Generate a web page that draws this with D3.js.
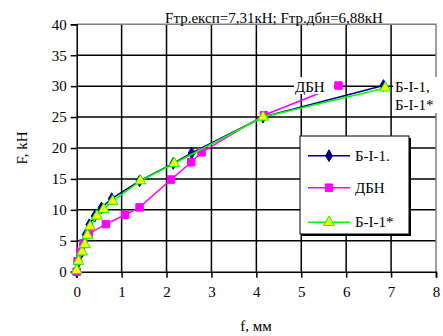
<!DOCTYPE html>
<html>
<head>
<meta charset="utf-8">
<script src="https://cdn.jsdelivr.net/npm/d3@7"></script>
<style>
  body { margin: 0; background: #fff; }
</style>
</head>
<body>
<svg id="chart" width="443" height="336"></svg>
<script>
// series: [f, mm ; F, kH]
var seriesB1 = [[0,0],[0.03,1.5],[0.1,3],[0.15,4.5],[0.2,6],[0.28,7.6],[0.4,9],[0.55,10.3],[0.78,11.8],[1.4,14.7],[2.15,17.5],[2.56,19.2],[4.15,25],[6.83,30.1]];
var seriesDBN = [[0,0],[0.02,1.7],[0.08,3.2],[0.15,4.6],[0.27,6.1],[0.65,7.7],[1.08,9.2],[1.4,10.4],[2.1,14.9],[2.55,17.7],[2.78,19.3],[4.17,25.3],[5.83,30.1]];
var seriesB1s = [[0,0.2],[0.04,1.7],[0.12,3.2],[0.18,4.4],[0.24,5.9],[0.3,7.3],[0.45,9],[0.6,10.1],[0.8,11.4],[1.42,14.7],[2.17,17.5],[4.15,25],[6.87,29.7]];
var xTicks = [0,1,2,3,4,5,6,7,8];
var yTicks = [0,5,10,15,20,25,30,35,40];
var legendNames = ["Б-І-1.", "ДБН", "Б-І-1*"];

var svg = d3.select("#chart");
var x = d3.scaleLinear().domain([0, 8]).range([76.7, 436]);
var y = d3.scaleLinear().domain([0, 40]).range([271.7, 24.3]);

// serif text helper
function serif(sel) {
  return sel.style("font-family", "Tinos").style("font-size", "15px").attr("fill", "#000");
}

// grid
var g = svg.append("g");
g.selectAll("line.vx").data(xTicks.slice(1, -1)).enter().append("line")
  .attr("x1", d => x(d)).attr("x2", d => x(d))
  .attr("y1", y(40)).attr("y2", y(0))
  .attr("stroke", "#000").attr("stroke-width", 1.5);
g.selectAll("line.hy").data(yTicks.slice(1, -1)).enter().append("line")
  .attr("x1", x(0)).attr("x2", x(8))
  .attr("y1", d => y(d)).attr("y2", d => y(d))
  .attr("stroke", "#000").attr("stroke-width", 1.5);
// top and right border gray
g.append("path")
  .attr("d", "M" + x(0) + "," + y(40) + "H" + x(8) + "V" + y(0))
  .attr("fill", "none").attr("stroke", "#808080").attr("stroke-width", 1.5);

// axes
var xAxis = svg.append("g").attr("transform", "translate(0," + y(0) + ")")
  .call(d3.axisBottom(x).tickValues(xTicks).tickSize(6).tickPadding(9).tickFormat(d3.format("d")));
var yAxis = svg.append("g").attr("transform", "translate(" + x(0) + ",0)")
  .call(d3.axisLeft(y).tickValues(yTicks).tickSize(6).tickPadding(4).tickFormat(d3.format("d")));
[xAxis, yAxis].forEach(function(a) {
  a.attr("font-family", "Tinos").attr("font-size", 15);
  a.select(".domain").attr("stroke", "#000").attr("stroke-width", 1.5);
  a.selectAll(".tick line").attr("stroke", "#000").attr("stroke-width", 1.5);
  serif(a.selectAll("text"));
});

// titles
serif(svg.append("text").attr("x", 274).attr("y", 23).attr("text-anchor", "middle"))
  .text("Fтр.експ=7,31кН; Fтр.дбн=6,88кН");
serif(svg.append("text").attr("x", 256).attr("y", 331).attr("text-anchor", "middle"))
  .text("f, мм");
serif(svg.append("text").attr("transform", "translate(27,148) rotate(-90)").attr("text-anchor", "middle"))
  .text("F, kH");

// series
var line = d3.line().x(d => x(d[0])).y(d => y(d[1]));
var diamond = d3.symbol().type(d3.symbolDiamond).size(40);
var square = d3.symbol().type(d3.symbolSquare).size(56);
var triangle = d3.symbol().type(d3.symbolTriangle).size(50);

function drawSeries(data, color, sym, fill, stroke) {
  svg.append("path").datum(data).attr("d", line)
    .attr("fill", "none").attr("stroke", color).attr("stroke-width", 1.5);
  svg.append("g").selectAll("path").data(data).enter().append("path")
    .attr("transform", d => "translate(" + x(d[0]) + "," + y(d[1]) + ")")
    .attr("d", sym).attr("fill", fill).attr("stroke", stroke).attr("stroke-width", 1);
}
drawSeries(seriesB1, "#000080", diamond, "#000080", "#000080");
drawSeries(seriesDBN, "#FF00FF", square, "#FF00FF", "#FF00FF");
drawSeries(seriesB1s, "#00FF00", triangle, "#FFFF00", "#00FF00");

// data labels
svg.append("rect").attr("x", 294).attr("y", 77).attr("width", 40).attr("height", 17).attr("fill", "#fff");
serif(svg.append("text").attr("x", 295).attr("y", 92)).text("ДБН");
svg.append("rect").attr("x", 393).attr("y", 77).attr("width", 50).attr("height", 36).attr("fill", "#fff");
serif(svg.append("text").attr("x", 395).attr("y", 92)).text("Б-І-1,");
serif(svg.append("text").attr("x", 395).attr("y", 110)).text("Б-І-1*");

// legend
var lg = svg.append("g");
lg.append("rect").attr("x", 302).attr("y", 138).attr("width", 109).attr("height", 98).attr("fill", "#000");
lg.append("rect").attr("x", 300).attr("y", 136).attr("width", 109).attr("height", 98)
  .attr("fill", "#fff").attr("stroke", "#000").attr("stroke-width", 1);
var legColors = ["#000080", "#FF00FF", "#00FF00"];
var legSyms = [diamond, square, triangle];
var legFill = ["#000080", "#FF00FF", "#FFFF00"];
var legRows = [155.7, 187.7, 222.3];
legendNames.forEach(function(name, i) {
  lg.append("line").attr("x1", 308).attr("x2", 350).attr("y1", legRows[i]).attr("y2", legRows[i])
    .attr("stroke", legColors[i]).attr("stroke-width", 1.5);
  lg.append("path").attr("transform", "translate(329," + legRows[i] + ")")
    .attr("d", legSyms[i]).attr("fill", legFill[i]).attr("stroke", legColors[i]);
  serif(lg.append("text").attr("x", 355).attr("y", legRows[i] + 5)).text(name);
});
</script>
</body>
</html>
